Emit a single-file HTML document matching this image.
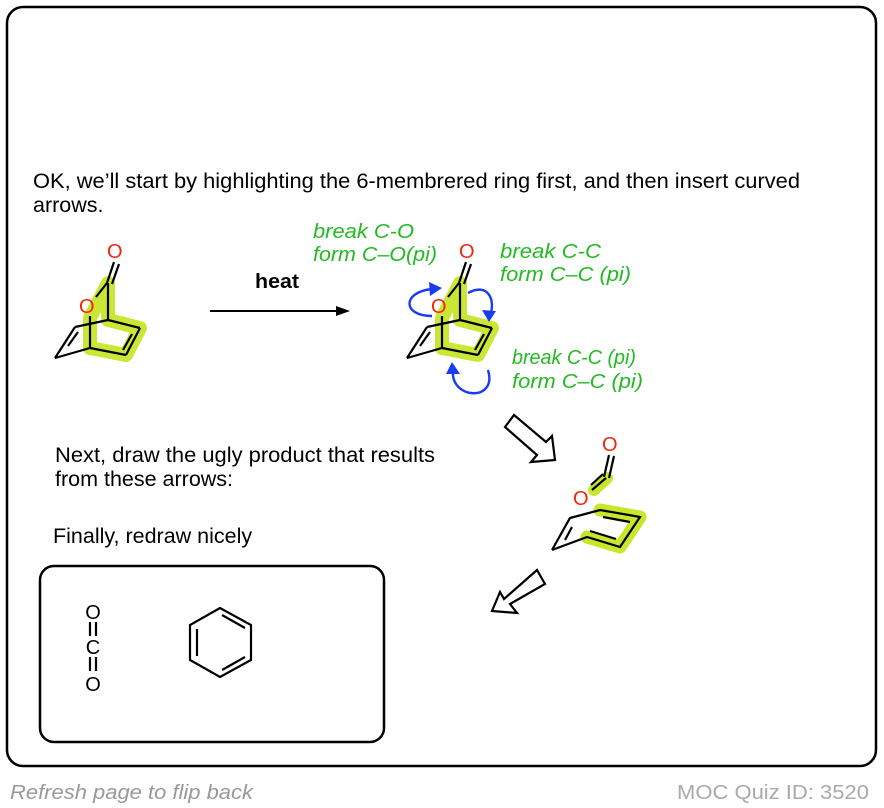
<!DOCTYPE html>
<html><head><meta charset="utf-8"><style>
body{margin:0;background:#fff;width:884px;height:808px;overflow:hidden}
svg{position:absolute;left:0;top:0}
text{font-family:"Liberation Sans",Arial,sans-serif}
</style></head><body>
<svg width="884" height="808" viewBox="0 0 884 808">
<rect x="7" y="7" width="869" height="759" rx="16" fill="#fff" stroke="#000" stroke-width="2.5"/>
<text x="33" y="188" font-size="21.5" textLength="767" lengthAdjust="spacingAndGlyphs">OK, we’ll start by highlighting the 6-membrered ring first, and then insert curved</text>
<text x="33" y="212" font-size="21.5">arrows.</text>

<g id="m1">
<path d="M108,283 L108,320 L140,328 L126,355 L90,348 L90,318 Z" fill="none" stroke="#c8e62a" stroke-width="14" stroke-linejoin="round" opacity="0.95"/>
<g stroke="#000" stroke-width="2.2" fill="none">
<line x1="114" y1="262" x2="107" y2="283"/><line x1="119" y1="264" x2="112" y2="284"/>
<line x1="107" y1="283" x2="96" y2="297"/>
<line x1="108" y1="283" x2="108" y2="320"/>
<line x1="90" y1="316" x2="90" y2="348"/>
<line x1="108" y1="320" x2="140" y2="328"/>
<line x1="140" y1="328" x2="126" y2="355"/>
<line x1="132" y1="334" x2="123" y2="350"/>
<line x1="126" y1="355" x2="90" y2="348"/>
<line x1="90" y1="348" x2="55" y2="358"/>
<line x1="55" y1="358" x2="75" y2="327"/>
<line x1="75" y1="327" x2="108" y2="320"/>
<line x1="68" y1="346" x2="78" y2="332"/>
</g>
<text x="107" y="258" font-size="20" fill="#f2260a">O</text>
<text x="79" y="313" font-size="20" fill="#f2260a">O</text>
</g>

<text x="255" y="288" font-size="20" font-weight="bold" textLength="44" lengthAdjust="spacingAndGlyphs">heat</text>
<line x1="210" y1="311" x2="340" y2="311" stroke="#000" stroke-width="2"/>
<polygon points="350,311 336,306 336,316" fill="#000"/>

<use href="#m1" transform="translate(352,0)"/>
<g stroke="#1a3cf0" stroke-width="2.4" fill="none">
<path d="M432,316 C402,316 402,292 432,289"/>
<path d="M468,293 C488,282 496,300 490,316"/>
<path d="M488,370 C498,402 450,400 453,370"/>
</g>
<g fill="#1a3cf0">
<polygon points="442,288 429,282 430,296"/>
<polygon points="489,322 482,310 496,311"/>
<polygon points="452,362 446,374 460,374"/>
</g>
<g font-size="20" font-style="italic" fill="#22bb22">
<text x="313" y="238" textLength="101" lengthAdjust="spacingAndGlyphs">break C-O</text>
<text x="313" y="261" textLength="124" lengthAdjust="spacingAndGlyphs">form C–O(pi)</text>
<text x="500" y="258" textLength="101" lengthAdjust="spacingAndGlyphs">break C-C</text>
<text x="500" y="281" textLength="131" lengthAdjust="spacingAndGlyphs">form C–C (pi)</text>
<text x="512" y="364" textLength="124" lengthAdjust="spacingAndGlyphs">break C-C (pi)</text>
<text x="512" y="388" textLength="131" lengthAdjust="spacingAndGlyphs">form C–C (pi)</text>
</g>

<text x="55" y="462" font-size="21.5" textLength="380" lengthAdjust="spacingAndGlyphs">Next, draw the ugly product that results</text>
<text x="55" y="486" font-size="21.5">from these arrows:</text>
<text x="53" y="543" font-size="21.5">Finally, redraw nicely</text>

<polygon points="505,427 514,415 546,442 552,436 555,460 531,462 537,455" fill="#fff" stroke="#000" stroke-width="2.2"/>
<polygon points="537,570 545,584 510,604 517,613 492,611 500,592 504,599" fill="#fff" stroke="#000" stroke-width="2.2"/>

<path d="M607,478 L594,490" stroke="#c8e62a" stroke-width="12" stroke-linecap="round"/>
<path d="M600,510 L640,517 L620,547 L587,537" fill="none" stroke="#c8e62a" stroke-width="13" stroke-linejoin="round" stroke-linecap="round"/>
<g stroke="#000" stroke-width="2.2" fill="none">
<line x1="609" y1="455" x2="604" y2="477"/><line x1="614" y1="456" x2="609" y2="478"/>
<line x1="606" y1="478" x2="592" y2="490"/><line x1="603" y1="474" x2="591" y2="485"/>
<polyline points="552,550 570,518 600,510 640,517 620,547 587,537 552,550"/>
<line x1="603" y1="517" x2="630" y2="522"/>
<line x1="590" y1="531" x2="616" y2="539"/>
<line x1="565" y1="540" x2="572" y2="527"/>
</g>
<text x="602" y="451" font-size="20" fill="#f2260a">O</text>
<text x="573" y="505" font-size="20" fill="#f2260a">O</text>

<rect x="40" y="566" width="344" height="176" rx="14" fill="none" stroke="#000" stroke-width="2.5"/>
<g font-size="20" text-anchor="middle">
<text x="93" y="619">O</text><text x="93" y="654">C</text><text x="93" y="691">O</text>
</g>
<g stroke="#000" stroke-width="2.2">
<line x1="90" y1="622" x2="90" y2="636"/><line x1="96" y1="622" x2="96" y2="636"/>
<line x1="90" y1="657" x2="90" y2="671"/><line x1="96" y1="657" x2="96" y2="671"/>
</g>
<g stroke="#000" stroke-width="2.2" fill="none">
<polygon points="220,608 251,625 251,660 220,677 190,660 190,625"/>
<line x1="222" y1="615" x2="245" y2="628"/>
<line x1="197" y1="629" x2="197" y2="656"/>
<line x1="222" y1="670" x2="245" y2="657"/>
</g>

<text x="10" y="799" font-size="20" font-style="italic" fill="#999" textLength="243" lengthAdjust="spacingAndGlyphs">Refresh page to flip back</text>
<text x="869" y="799" font-size="20" fill="#aaa" text-anchor="end" textLength="192" lengthAdjust="spacingAndGlyphs">MOC Quiz ID: 3520</text>
</svg>
</body></html>
